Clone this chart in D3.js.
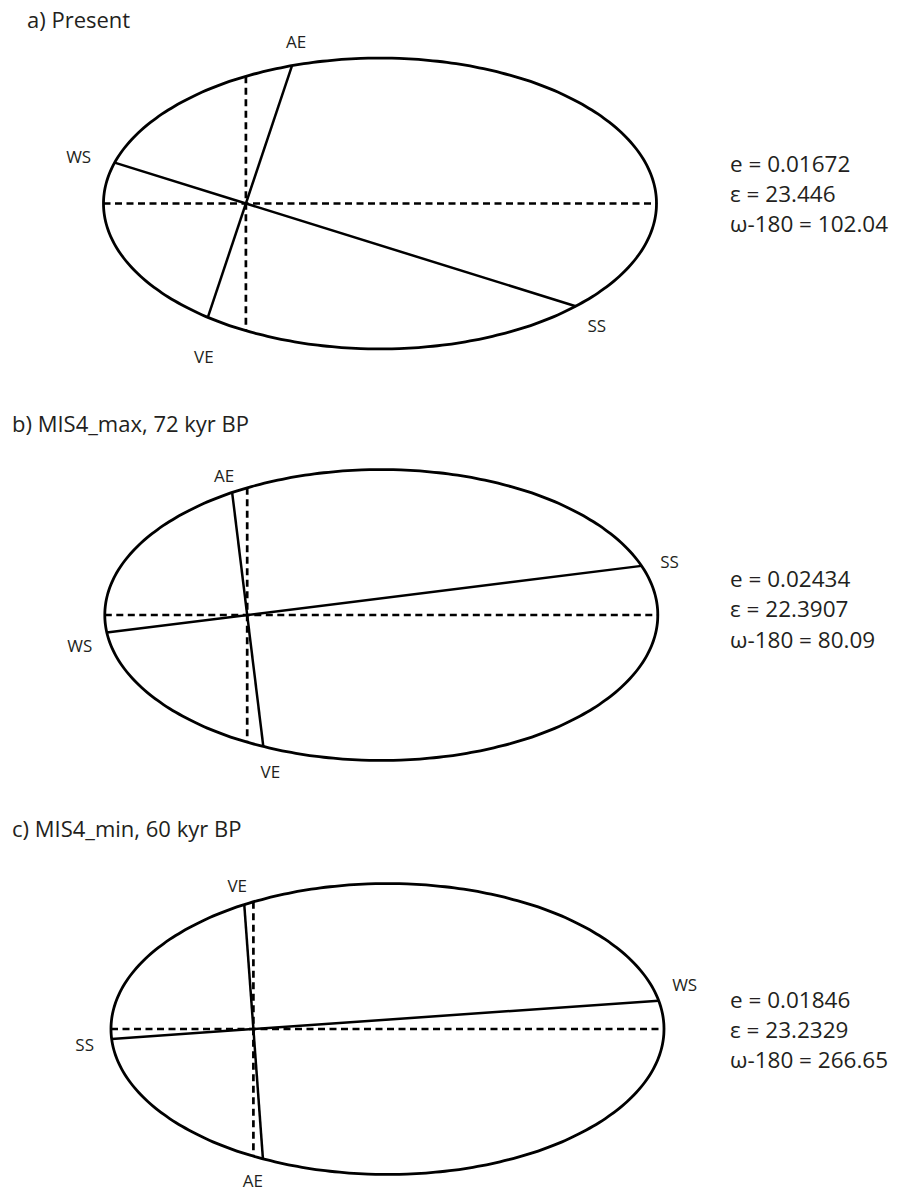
<!DOCTYPE html>
<html>
<head>
	<script src="https://d3js.org/d3.v7.min.js"></script>
	<style>
		body { margin: 0; background: #fff; }
		text { font-family: "Open Sans", sans-serif; fill: #231f20; }
	</style>
</head>
<body>
<svg id="container"></svg>
</body>
<script>
// data
let panelTitles = ['a) Present', 'b) MIS4_max, 72 kyr BP', 'c) MIS4_min, 60 kyr BP'];
let eccentricity = ['0.01672', '0.02434', '0.01846'];
let obliquity = ['23.446', '22.3907', '23.2329'];
let perihelion = ['102.04', '80.09', '266.65'];   // omega - 180
let seasonNames = ['AE', 'WS', 'VE', 'SS'];
// direction of each season point seen from the sun, degrees (counter-clockwise from +x)
let seasonAngles = [
	[71.5, 162.7, 251.5, 342.7],
	[97.0, 187.1, 277.0, 7.1],
	[274.2, 4.0, 94.2, 184.0]
];
// drawn orbit shape (schematic, major semi-axis = 1)
let semiMinor = 0.526;
let sunOffset = -0.485;
</script>

<script>
// layout
let panels = [
	{cx: 380, cy: 203.5, titleX: 27, titleY: 28, textY: 171.5,
		labelOff: [[4, -24], [-36, -6], [-4, 40], [21, 20]]},
	{cx: 381.3, cy: 615, titleX: 12, titleY: 432, textY: 587,
		labelOff: [[-8, -17], [-27, 13], [7, 25], [28, -4]]},
	{cx: 387.5, cy: 1029, titleX: 12, titleY: 837, textY: 1007.5,
		labelOff: [[-10, 22], [26, -16], [-7, -19], [-27, 6]]}
];
let rx = 276.5;

let svg = d3.select('#container')
	.attr('width', 899)
	.attr('height', 1193);

// point where a ray from the sun meets the ellipse
let hit = function(angle) {
	let c = Math.cos(angle * Math.PI / 180), s = Math.sin(angle * Math.PI / 180);
	let A = c * c + (s * s) / (semiMinor * semiMinor);
	let B = 2 * sunOffset * c;
	let C = sunOffset * sunOffset - 1;
	let t = (-B + Math.sqrt(B * B - 4 * A * C)) / (2 * A);
	return [sunOffset + t * c, t * s];
}

panels.forEach((p, i) => {
	let x = d3.scaleLinear().domain([-1, 1]).range([p.cx - rx, p.cx + rx]);
	let y = d3.scaleLinear().domain([-1, 1]).range([p.cy + rx, p.cy - rx]);
	let g = svg.append('g');

	g.append('text')
		.attr('x', p.titleX)
		.attr('y', p.titleY)
		.style('font-size', '22px')
		.text(panelTitles[i]);

	// orbit
	let orbit = d3.range(0, 361, 2).map(a => [Math.cos(a * Math.PI / 180), semiMinor * Math.sin(a * Math.PI / 180)]);
	g.append('path')
		.datum(orbit)
		.attr('d', d3.line().x(d => x(d[0])).y(d => y(d[1])).curve(d3.curveCardinalClosed))
		.attr('fill', 'none')
		.attr('stroke', '#000')
		.attr('stroke-width', 2.8);

	// major axis and the line through the sun, dashed
	let half = semiMinor * Math.sqrt(1 - sunOffset * sunOffset);
	let dashed = [
		[[-1, 0], [1, 0]],
		[[sunOffset, half], [sunOffset, -half]]
	];
	g.selectAll('.dash')
		.data(dashed)
		.enter()
		.append('line')
		.attr('x1', d => x(d[0][0]))
		.attr('y1', d => y(d[0][1]))
		.attr('x2', d => x(d[1][0]))
		.attr('y2', d => y(d[1][1]))
		.attr('stroke', '#000')
		.attr('stroke-width', 2.7)
		.attr('stroke-dasharray', '7,4.5');

	// solstice and equinox lines
	let pts = seasonAngles[i].map(hit);
	let pairs = [[pts[0], pts[2]], [pts[1], pts[3]]];
	g.selectAll('.season')
		.data(pairs)
		.enter()
		.append('line')
		.attr('x1', d => x(d[0][0]))
		.attr('y1', d => y(d[0][1]))
		.attr('x2', d => x(d[1][0]))
		.attr('y2', d => y(d[1][1]))
		.attr('stroke', '#000')
		.attr('stroke-width', 2.5);

	g.selectAll('.lab')
		.data(seasonNames)
		.enter()
		.append('text')
		.attr('x', (d, k) => x(pts[k][0]) + p.labelOff[k][0])
		.attr('y', (d, k) => y(pts[k][1]) + p.labelOff[k][1])
		.attr('text-anchor', 'middle')
		.attr('dy', '0.36em')
		.style('font-size', '17px')
		.text(d => d);

	let lines = ['e = ' + eccentricity[i], '\u03b5 = ' + obliquity[i], '\u03c9-180 = ' + perihelion[i]];
	g.selectAll('.param')
		.data(lines)
		.enter()
		.append('text')
		.attr('x', 730)
		.attr('y', (d, k) => p.textY + k * 30.3)
		.style('font-size', '22.5px')
		.text(d => d);
});
</script>
</html>
